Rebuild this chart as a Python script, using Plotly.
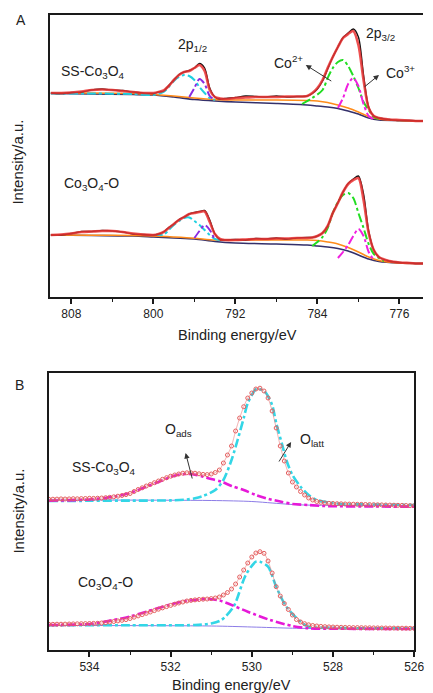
import plotly.graph_objects as go

# ---------------- Panel A : Co 2p ----------------
xa = [810, 809, 808, 807, 806, 805, 804, 803, 802, 801, 800,
      799.5, 799, 798.5, 798, 797.5, 797, 796.5, 796, 795.5, 795, 794.5, 794, 793.5, 793,
      792, 791, 790, 789, 788, 787, 786, 785,
      784.5, 784, 783.5, 783, 782.5, 782, 781.5, 781, 780.5, 780, 779.5, 779, 778.5, 778,
      777, 776, 775, 774, 773.6]

fit_ss_a = [204, 204, 204.5, 205.5, 207, 207.5, 207, 206, 205, 204, 204,
            205, 206.5, 211, 217, 222, 225, 226, 229, 232, 226, 207, 200, 198.5, 198,
            199, 199.5, 200, 200, 200, 200.5, 200.5, 201,
            204, 209, 217, 229, 240, 250, 259, 263, 266, 252, 217, 189, 181, 179,
            177.5, 177, 176.5, 176, 176]
raw_ss_a = [204, 203.5, 204.5, 205, 207, 208, 207, 206.5, 205, 204, 203.5,
            205, 206, 211.5, 217, 222.5, 225, 226.5, 229, 233.5, 229, 209, 200, 198, 198.5,
            199.5, 201, 200.5, 200, 201, 200, 200.5, 201,
            203.5, 208, 216, 228, 240, 250, 259.5, 264, 268, 260, 222, 190, 181, 179,
            177.5, 176.5, 176.5, 176, 176]
fit_co_a = [62, 62.5, 63.5, 65, 65.5, 66, 66, 65, 63.5, 62.5, 62,
            63, 65, 69, 73, 77, 80, 83, 84, 85, 85.5, 75, 63, 58, 57,
            57, 57.5, 58, 58, 58.5, 58.5, 59, 59,
            59.5, 61, 64, 71, 84, 94, 105, 113, 117, 119, 97, 64, 47, 40,
            36, 34.5, 34, 33.5, 33.5]
raw_co_a = [62, 62, 63.5, 65.5, 65.5, 66.5, 66, 65, 63, 62.5, 62,
            63, 65, 69.5, 73, 77.5, 80, 83, 84.5, 85.5, 86.5, 77, 63, 57.5, 57,
            57.5, 57, 58.5, 58, 59, 58, 59, 59.5,
            59.5, 61, 64, 71, 84, 94.5, 105, 113.5, 118, 121, 103, 66, 47, 40,
            36, 34.5, 34, 33.5, 33.5]

# backgrounds
bg_x = [810, 806, 802, 800, 798, 796, 794, 792, 788, 785, 784, 783, 782, 781, 780, 779, 778, 776, 773.6]
orange_ss = [204, 204, 203.5, 202.5, 201, 199, 197.5, 197, 197, 196.5, 196, 194.5, 192, 189, 185, 180.5, 178, 176.5, 176]
navy_ss = [203.5, 203, 202.5, 202, 200, 197.5, 196, 195, 193.5, 192, 191, 190, 188.5, 186, 183, 179, 177, 176.5, 176]
orange_co = [62, 61.8, 61.5, 61, 60, 58.8, 57, 57, 57, 57, 56.5, 55, 53, 49.5, 45, 40, 36.5, 34, 33.5]
navy_co = [62, 61.5, 61, 60, 59, 58, 55.5, 54, 53, 52, 51, 50, 48.5, 46, 42, 38, 35.5, 34, 33.5]

# fitted components, SS-Co3O4
cyan_ss_x = [810, 806, 802, 800, 799, 798.5, 798, 797.5, 797, 796.5, 796, 795.5, 795, 794.5, 794]
cyan_ss_y = [203.5, 203.5, 203, 202, 205, 210, 216, 220, 222, 221, 217, 210, 204, 199, 197]
viol_ss_x = [796.5, 796, 795.5, 795, 794.5, 794]
viol_ss_y = [200, 209, 218, 213, 201, 197]
green_ss_x = [785.5, 784.5, 783.5, 783, 782.5, 782, 781.5, 781, 780.5, 780, 779.5, 779, 778.5, 778]
green_ss_y = [193, 199, 207, 219, 229, 235, 237, 231, 221, 209, 195, 187, 180, 178]
mag_ss_x = [782, 781.5, 781, 780.5, 780, 779.5, 779, 778.5]
mag_ss_y = [189, 199, 213, 219, 211, 193, 181, 178]

# fitted components, Co3O4-O
cyan_co_x = [800, 799, 798.5, 798, 797.5, 797, 796.5, 796, 795.5, 795, 794.5, 794, 793.5]
cyan_co_y = [62, 62.5, 67, 72, 76, 79, 79.5, 76, 72, 67, 62, 58, 57]
viol_co_x = [796, 795.5, 795, 794.5, 794]
viol_co_y = [59, 66, 72, 67, 57]
green_co_x = [784.5, 784, 783.5, 783, 782.5, 782, 781.5, 781, 780.5, 780, 779.5, 779, 778.5, 778, 777.5]
green_co_y = [51, 55, 60, 69, 84, 95, 102, 104, 99, 84, 69, 53, 43, 39, 36]
mag_co_x = [782, 781.5, 781, 780.5, 780, 779.5, 779, 778.5]
mag_co_y = [39, 45, 52, 61, 68, 61, 45, 37]

ticks_a = [808, 800, 792, 784, 776]
minor_a = [804, 796, 788, 780]

# ---------------- Panel B : O 1s ----------------
xb = [535.0, 534.9, 534.8, 534.7, 534.6, 534.5, 534.4, 534.3, 534.2, 534.1,
      534.0, 533.9, 533.8, 533.7, 533.6, 533.5, 533.4, 533.3, 533.2, 533.1,
      533.0, 532.9, 532.8, 532.7, 532.6, 532.5, 532.4, 532.3, 532.2, 532.1,
      532.0, 531.9, 531.8, 531.7, 531.6, 531.5, 531.4, 531.3, 531.2, 531.1,
      531.0, 530.9, 530.8, 530.7, 530.6, 530.5, 530.4, 530.3, 530.2, 530.1,
      530.0, 529.9, 529.8, 529.7, 529.6, 529.5, 529.4, 529.3, 529.2, 529.1,
      529.0, 528.9, 528.8, 528.7, 528.6, 528.5, 528.4, 528.3, 528.2, 528.1,
      528.0, 527.9, 527.8, 527.7, 527.6, 527.5, 527.4, 527.3, 527.2, 527.1,
      527.0, 526.9, 526.8, 526.7, 526.6, 526.5, 526.4, 526.3, 526.2, 526.1,
      526.0]
data_ss_b = [150.7, 150.8, 150.9, 151.1, 151.0, 151.1, 151.3, 151.2, 151.4, 151.5,
             151.7, 151.6, 151.8, 152.0, 152.3, 152.7, 153.2, 153.8, 154.5, 155.4,
             156.5, 158.5, 160.5, 162.2, 164.0, 165.5, 167.3, 169.0, 170.7, 172.3,
             173.8, 175.0, 176.0, 176.8, 177.2, 177.2, 176.8, 176.2, 175.6, 175.4,
             176.0, 177.5, 180.0, 187.0, 195.0, 204.0, 219.0, 232.0, 243.3, 252.0,
             257.0, 261.0, 261.8, 259.0, 252.0, 239.0, 222.0, 204.0, 189.0, 177.0,
             168.0, 163.0, 158.5, 155.0, 152.0, 150.0, 148.5, 147.7, 147.0, 146.7,
             146.5, 146.3, 146.2, 146.0, 145.9, 145.8, 145.7, 145.6, 145.5, 145.4,
             145.3, 145.2, 145.1, 145.0, 144.9, 144.8, 144.7, 144.6, 144.5, 144.4,
             144.3]
data_co_b = [25.7, 25.7, 25.8, 25.8, 25.9, 26.0, 26.1, 26.2, 26.3, 26.4,
             26.5, 26.6, 26.7, 27.0, 27.4, 27.9, 28.5, 29.1, 29.7, 30.4,
             31.5, 32.8, 34.1, 35.4, 36.7, 38.0, 39.4, 40.8, 42.1, 43.4,
             44.6, 45.8, 47.0, 48.0, 49.0, 49.6, 50.1, 50.5, 50.8, 51.0,
             51.4, 52.0, 53.0, 55.0, 57.5, 61.0, 66.0, 73.0, 80.0, 87.0,
             93.0, 97.0, 98.3, 96.7, 89.0, 77.0, 63.3, 54.0, 46.5, 40.5,
             35.0, 30.5, 28.0, 26.3, 25.2, 24.5, 24.0, 23.6, 23.3, 23.1,
             23.0, 22.8, 22.7, 22.6, 22.5, 22.4, 22.4, 22.3, 22.2, 22.2,
             22.1, 22.1, 22.0, 22.0, 21.9, 21.9, 21.8, 21.8, 21.8, 21.7,
             21.7]

oads_ss_x = [535, 534, 533.4, 533, 532.6, 532.3, 532, 531.8, 531.6, 531.4, 531.2, 531, 530.75,
             530.5, 530.2, 529.9, 529.65, 529.3, 529, 528.6, 528.2, 527, 526]
oads_ss_y = [149.3, 150.5, 153.3, 157, 163.3, 168, 173, 175.3, 176, 175.3, 173.3, 171, 168.3,
             164, 160, 155, 151.7, 148.5, 146, 145, 144, 143.5, 143.3]
olatt_ss_x = [535, 534, 533, 532, 531.6, 531.4, 531.2, 530.9, 530.7, 530.5, 530.35, 530.2, 530.1,
              530, 529.88, 529.75, 529.65, 529.5, 529.4, 529.25, 529.15, 529, 528.8, 528.6,
              528.4, 528.1, 527.8, 527, 526]
olatt_ss_y = [149, 149.2, 149.4, 149.6, 150.5, 151.7, 154, 160, 170, 190, 210, 232, 247,
              255, 261.5, 260, 257, 245, 227, 205, 190, 175, 163.3, 155,
              150, 147.5, 146, 145.5, 145]
base_ss_x = [535, 531, 530, 529.5, 529, 528.5, 527, 526]
base_ss_y = [150, 149.5, 148.5, 147, 145.5, 144.8, 144.4, 144.3]

oads_co_x = [535, 534, 533.4, 533, 532.6, 532.05, 531.7, 531.4, 531.1, 530.8, 530.6, 530.1,
             529.55, 529, 528.6, 528, 526]
oads_co_y = [25, 26, 30, 33.5, 38.3, 45, 48.5, 50, 51, 49.5, 46.7, 38.3,
             30, 24, 21.7, 21.3, 21]
olatt_co_x = [535, 533, 531.4, 531, 530.75, 530.45, 530.15, 529.9, 529.8, 529.6, 529.4, 529.15,
              528.8, 528.6, 528, 527.4, 526]
olatt_co_y = [24.7, 24.8, 25, 26.5, 30, 43.3, 75, 88.3, 88.3, 83.3, 63.3, 43.3,
              28.3, 23.3, 22.2, 21.7, 21.7]
base_co_x = [535, 531, 530, 529, 528, 526]
base_co_y = [24.5, 24, 23, 21.8, 21.3, 21]

ticks_b = [534, 532, 530, 528, 526]
minor_b = [533, 531, 529, 527]

# ---------------- figure ----------------
W, H = 433, 693
FONT = "Arial, Liberation Sans, sans-serif"
fig = go.Figure()


def add(x, y, color, width, dash="solid", axis="a", mode="lines", marker=None, opacity=1.0):
    xr, yr = ("x", "y") if axis == "a" else ("x2", "y2")
    kw = dict(x=x, y=y, mode=mode, xaxis=xr, yaxis=yr, opacity=opacity,
              line=dict(color=color, width=width, dash=dash, shape="spline", smoothing=0.8),
              hoverinfo="skip", showlegend=False)
    if marker:
        kw["marker"] = marker
    fig.add_trace(go.Scatter(**kw))


# panel A traces
for bgo, bgn in ((orange_ss, navy_ss), (orange_co, navy_co)):
    add(bg_x, bgn, "#34306a", 1.6)
    add(bg_x, bgo, "#ff8c1a", 1.6)
add(cyan_ss_x, cyan_ss_y, "#1fd0e0", 2, "dashdot")
add(viol_ss_x, viol_ss_y, "#8a2be2", 2, "dashdot")
add(green_ss_x, green_ss_y, "#22dd22", 2, "dashdot")
add(mag_ss_x, mag_ss_y, "#f020e0", 2, "dashdot")
add(cyan_co_x, cyan_co_y, "#1fd0e0", 2, "dashdot")
add(viol_co_x, viol_co_y, "#8a2be2", 2, "dashdot")
add(green_co_x, green_co_y, "#22dd22", 2, "dashdot")
add(mag_co_x, mag_co_y, "#f020e0", 2, "dashdot")
add(xa, raw_ss_a, "#111111", 1.4)
add(xa, raw_co_a, "#111111", 1.4)
add(xa, fit_ss_a, "rgba(235,50,50,0.85)", 2.6)
add(xa, fit_co_a, "rgba(235,50,50,0.85)", 2.6)

# panel B traces
circ = dict(symbol="circle-open", size=4, color="rgb(228,95,95)", line=dict(width=1))
add(base_ss_x, base_ss_y, "#8c7ce6", 1, axis="b")
add(base_co_x, base_co_y, "#8c7ce6", 1, axis="b")
add(olatt_ss_x, olatt_ss_y, "#33d6e6", 2.6, "dashdot", axis="b")
add(oads_ss_x, oads_ss_y, "#e619d8", 2.6, "dashdot", axis="b")
add(olatt_co_x, olatt_co_y, "#33d6e6", 2.6, "dashdot", axis="b")
add(oads_co_x, oads_co_y, "#e619d8", 2.6, "dashdot", axis="b")
add(xb, data_ss_b, "rgba(228,95,95,0.6)", 0.8, axis="b", mode="lines+markers", marker=circ)
add(xb, data_co_b, "rgba(228,95,95,0.6)", 0.8, axis="b", mode="lines+markers", marker=circ)

axis_line = dict(showline=True, linecolor="#1a1a1a", linewidth=1.8, showgrid=False, zeroline=False)
xcommon = dict(ticks="outside", ticklen=5, tickwidth=1.5, tickcolor="#1a1a1a",
               ticklabeloverflow="allow",
               tickfont=dict(size=12, color="#222", family=FONT), **axis_line)

fig.update_layout(
    width=W, height=H, margin=dict(l=0, r=0, t=0, b=0),
    paper_bgcolor="white", plot_bgcolor="white", showlegend=False,
    font=dict(family=FONT, color="#222"),
    xaxis=dict(domain=[51 / W, 1.0], range=[810.1, 773.7], anchor="y", mirror=True,
               tickvals=ticks_a, ticktext=[str(t) for t in ticks_a],
               minor=dict(tickvals=minor_a, ticks="outside", ticklen=3, tickwidth=1.2, tickcolor="#1a1a1a"),
               **xcommon),
    yaxis=dict(domain=[1 - 297 / H, 1 - 15 / H], range=[0, 282], anchor="x",
               showticklabels=False, ticks="", mirror=False, **axis_line),
    xaxis2=dict(domain=[50 / W, 424 / W], range=[535.0, 526.0], anchor="y2", mirror=True,
                tickvals=ticks_b, ticktext=[str(t) for t in ticks_b],
                minor=dict(tickvals=minor_b, ticks="outside", ticklen=3, tickwidth=1.2, tickcolor="#1a1a1a"),
                **xcommon),
    yaxis2=dict(domain=[1 - 650 / H, 1 - 373 / H], range=[0, 277], anchor="x2",
                showticklabels=False, ticks="", mirror=True, **axis_line),
)


def P(px):
    return px / W


def Q(py):
    return 1 - py / H


def label(text, px, py, size=14, anchor="left", angle=0):
    fig.add_annotation(text=text, x=P(px), y=Q(py), xref="paper", yref="paper",
                       xanchor=anchor, yanchor="middle", showarrow=False, textangle=angle,
                       font=dict(size=size, color="#222", family=FONT))


def arrow(hx, hy, tx, ty):
    fig.add_annotation(text="", x=P(hx), y=Q(hy), xref="paper", yref="paper",
                       ax=tx - hx, ay=ty - hy, showarrow=True, arrowhead=2,
                       arrowsize=1.1, arrowwidth=1, arrowcolor="#333")


label("A", 22, 20, 14, "center")
label("B", 20, 385, 14, "center")
label("Intensity/a.u.", 18, 162, 15, "center", -90)
label("Intensity/a.u.", 18, 511, 15, "center", -90)
label("Binding energy/eV", 243, 335, 14.5, "center")
label("Binding energy/eV", 237, 685, 14.5, "center")

label("SS-Co<sub>3</sub>O<sub>4</sub>", 60, 72, 14)
label("2p<sub>1/2</sub>", 180, 45, 14)
label("2p<sub>3/2</sub>", 373, 34, 14)
label("Co<sup>2+</sup>", 278, 62, 14)
label("Co<sup>3+</sup>", 393, 72, 14)
label("Co<sub>3</sub>O<sub>4</sub>-O", 63, 184, 14)
label("O<sub>ads</sub>", 167, 430, 14)
label("O<sub>latt</sub>", 305, 440, 14)
label("SS-Co<sub>3</sub>O<sub>4</sub>", 72, 468, 14)
label("Co<sub>3</sub>O<sub>4</sub>-O", 78, 583, 14)

arrow(313, 65, 340, 82)
arrow(388, 75, 372, 88)
arrow(190, 453, 197, 480)
arrow(298, 442, 285, 463)

fig.write_html("out.html")
